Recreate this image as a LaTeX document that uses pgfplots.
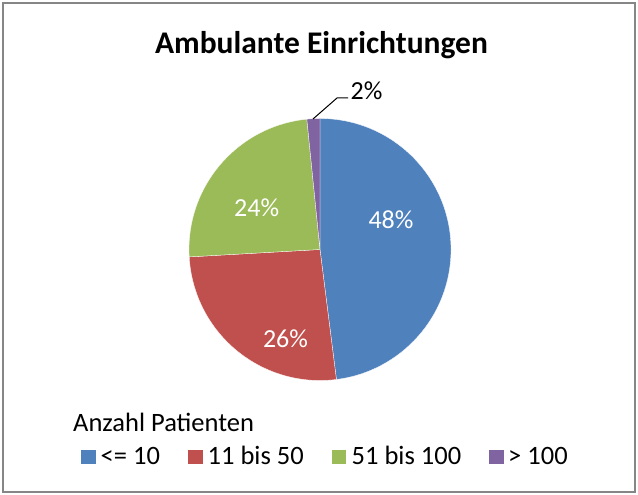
\documentclass[border=0pt]{standalone}
\usepackage{fontspec}
\setmainfont{Carlito}
\usepackage{pgfplots}
\pgfplotsset{compat=1.18}
\definecolor{pieblue}{RGB}{79,129,189}
\definecolor{piered}{RGB}{192,80,77}
\definecolor{piegreen}{RGB}{155,187,89}
\definecolor{piepurple}{RGB}{128,100,162}
\definecolor{framegray}{RGB}{134,134,134}

\begin{document}
\begin{tikzpicture}
\begin{axis}[
    x=1pt, y=1pt,
    xmin=0, xmax=638, ymin=0, ymax=495,
    hide axis,
    clip=false,
]
% page extent and chart border
\path (axis cs:0,0) rectangle (axis cs:638,495);
\draw[framegray, line width=1.6pt] (axis cs:3,3) rectangle (axis cs:635,492);

% ── Slices, clockwise from 12 o'clock (shares in percent: 48, 26.1, 24.3, 1.6)
\filldraw[fill=pieblue, draw=white, line width=0.3pt] (axis cs:320,245.5) -- ++(90:131pt)
    arc[start angle=90, end angle={90-48*3.6}, radius=131pt] -- cycle;
\filldraw[fill=piered, draw=white, line width=0.3pt] (axis cs:320,245.5) -- ++({90-48*3.6}:131pt)
    arc[start angle={90-48*3.6}, end angle={90-74.1*3.6}, radius=131pt] -- cycle;
\filldraw[fill=piegreen, draw=white, line width=0.3pt] (axis cs:320,245.5) -- ++({90-74.1*3.6}:131pt)
    arc[start angle={90-74.1*3.6}, end angle={90-98.4*3.6}, radius=131pt] -- cycle;
\filldraw[fill=piepurple, draw=white, line width=0.3pt] (axis cs:320,245.5) -- ++({90-98.4*3.6}:131pt)
    arc[start angle={90-98.4*3.6}, end angle={90-100*3.6}, radius=131pt] -- cycle;

% ── Title ───────────────────────────────────────────────────────────────────
\node[anchor=base, inner sep=0pt, font=\fontsize{31.5}{36}\selectfont\bfseries]
    at (axis cs:321.5,441.7) {Ambulante Einrichtungen};

% ── Data labels ─────────────────────────────────────────────────────────────
\node[anchor=base, inner sep=0pt, text=white, font=\fontsize{26}{30}\selectfont]
    at (axis cs:391,266.7) {48\%};
\node[anchor=base, inner sep=0pt, text=white, font=\fontsize{26}{30}\selectfont]
    at (axis cs:285.5,147.3) {26\%};
\node[anchor=base, inner sep=0pt, text=white, font=\fontsize{26}{30}\selectfont]
    at (axis cs:256.7,278.3) {24\%};
\draw[black, line width=1pt] (axis cs:313,376) -- (axis cs:337,397) -- (axis cs:348,397);
\node[anchor=base west, inner sep=0pt, font=\fontsize{26}{30}\selectfont]
    at (axis cs:350.5,395) {2\%};

% ── Legend ──────────────────────────────────────────────────────────────────
\node[anchor=base west, inner sep=0pt, font=\fontsize{26.5}{30}\selectfont]
    at (axis cs:73,63.3) {Anzahl Patienten};
\fill[pieblue] (axis cs:80.7,30.7) rectangle (axis cs:95.7,45);
\node[anchor=base west, inner sep=0pt, font=\fontsize{26.5}{30}\selectfont]
    at (axis cs:100.5,30) {<= 10};
\fill[piered] (axis cs:188,30.7) rectangle (axis cs:203.3,45);
\node[anchor=base west, inner sep=0pt, font=\fontsize{26.5}{30}\selectfont]
    at (axis cs:207.5,30) {11 bis 50};
\fill[piegreen] (axis cs:331.7,30.7) rectangle (axis cs:346,45);
\node[anchor=base west, inner sep=0pt, font=\fontsize{26.5}{30}\selectfont]
    at (axis cs:351.5,30) {51 bis 100};
\fill[piepurple] (axis cs:489,30.7) rectangle (axis cs:504,45);
\node[anchor=base west, inner sep=0pt, font=\fontsize{26.5}{30}\selectfont]
    at (axis cs:508,30) {> 100};
\end{axis}
\end{tikzpicture}
\end{document}
